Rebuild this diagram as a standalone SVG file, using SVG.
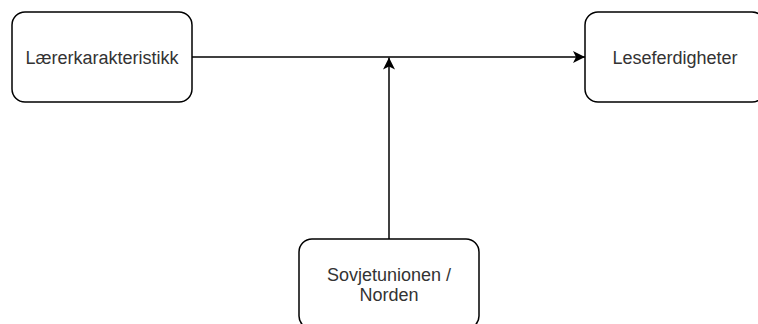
<svg xmlns="http://www.w3.org/2000/svg" width="758" height="324" viewBox="0 0 758 324">
  <defs>
    <!-- classic arrowhead with a notched back -->
    <marker id="arrow" viewBox="0 0 12 12" refX="12" refY="6" markerWidth="12" markerHeight="12" markerUnits="userSpaceOnUse" orient="auto">
      <path d="M0,0 L12,6 L0,12 L3,6 Z" fill="#000"/>
    </marker>
  </defs>
  <style>
    .box { fill: #fff; stroke: #000; stroke-width: 1.5; }
    .label { font-family: "Liberation Sans", Arial, sans-serif; font-size: 18px; fill: #333; text-anchor: middle; }
    .edge { fill: none; stroke: #000; stroke-width: 1.5; }
  </style>
  <rect width="758" height="324" fill="#fff"/>

  <g id="connectors">
    <path class="edge" d="M192,57 L585,57" marker-end="url(#arrow)"/>
    <path class="edge" d="M389,239 L389,57.5" marker-end="url(#arrow)"/>
  </g>

  <g id="laererkarakteristikk">
    <rect class="box" x="12" y="12" width="180" height="90" rx="13" ry="13"/>
    <text class="label" x="102" y="63.5">Lærerkarakteristikk</text>
  </g>

  <g id="leseferdigheter">
    <rect class="box" x="585" y="12" width="180" height="90" rx="13" ry="13"/>
    <text class="label" x="675" y="63.5">Leseferdigheter</text>
  </g>

  <g id="sovjetunionen-norden">
    <rect class="box" x="299" y="239" width="180" height="90" rx="13" ry="13"/>
    <text class="label" x="389" y="281">Sovjetunionen /</text>
    <text class="label" x="389" y="301">Norden</text>
  </g>
</svg>
